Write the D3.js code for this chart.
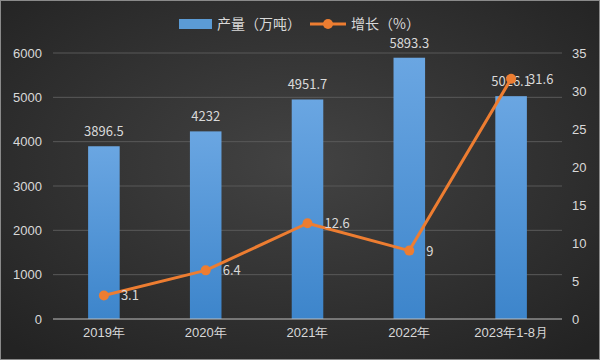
<!DOCTYPE html>
<html>
<head>
<meta charset="utf-8">
<script src="https://cdn.jsdelivr.net/npm/d3@7"></script>
<style>
  html, body { margin: 0; padding: 0; background: #2b2b2b; }
  svg { display: block; font-family: "Noto Sans CJK SC", "Noto Sans", sans-serif; }
</style>
</head>
<body>
<script>
// chart values
var categories = ["2019年", "2020年", "2021年", "2022年", "2023年1-8月"];
var output = [3896.5, 4232, 4951.7, 5893.3, 5026.1];
var growth = [3.1, 6.4, 12.6, 9, 31.6];
var leftTicks = [0, 1000, 2000, 3000, 4000, 5000, 6000];
var rightTicks = [0, 5, 10, 15, 20, 25, 30, 35];
var seriesNames = ["产量（万吨）", "增长（%）"];

var width = 600, height = 360;
var plotLeft = 53, plotRight = 562, plotTop = 53, plotBottom = 319;
var fs = "13px";

var svg = d3.select("body").append("svg")
    .attr("width", width)
    .attr("height", height);

var defs = svg.append("defs");
var bg = defs.append("radialGradient").attr("id", "bg")
    .attr("cx", "50%").attr("cy", "45%").attr("r", "70%");
bg.append("stop").attr("offset", "0%").attr("stop-color", "#434343");
bg.append("stop").attr("offset", "100%").attr("stop-color", "#232323");

var barGrad = defs.append("linearGradient").attr("id", "bar")
    .attr("x1", 0).attr("y1", 0).attr("x2", 0).attr("y2", 1);
barGrad.append("stop").attr("offset", "0%").attr("stop-color", "#6aa6e2");
barGrad.append("stop").attr("offset", "100%").attr("stop-color", "#3d85cb");

svg.append("rect")
    .attr("width", width).attr("height", height)
    .attr("fill", "url(#bg)");
svg.append("rect")
    .attr("x", 0.5).attr("y", 0.5)
    .attr("width", width - 1).attr("height", height - 1)
    .attr("fill", "none").attr("stroke", "#8a8a8a");

// scales
var x = d3.scaleBand().domain(categories).range([plotLeft, plotRight]).paddingInner(0.69).paddingOuter(0.345);
var xc = d3.scaleBand().domain(categories).range([plotLeft, plotRight]);
var yL = d3.scaleLinear().domain([0, 6000]).range([plotBottom, plotTop]);
var yR = d3.scaleLinear().domain([0, 35]).range([plotBottom, plotTop]);

// grid
svg.append("g").selectAll("line")
    .data(leftTicks.slice(1))
    .enter().append("line")
    .attr("x1", plotLeft).attr("x2", plotRight)
    .attr("y1", function (d) { return yL(d); })
    .attr("y2", function (d) { return yL(d); })
    .attr("stroke", "#595959").attr("stroke-width", 1);

// left axis
var axL = svg.append("g")
    .attr("transform", "translate(" + plotLeft + ",0)")
    .call(d3.axisLeft(yL).tickValues(leftTicks).tickFormat(d3.format("d")).tickSize(0).tickPadding(11));
axL.select(".domain").remove();
axL.selectAll("text").attr("fill", "#d9d9d9").style("font-size", fs);

// right axis
var axR = svg.append("g")
    .attr("transform", "translate(" + plotRight + ",0)")
    .call(d3.axisRight(yR).tickValues(rightTicks).tickSize(0).tickPadding(10));
axR.select(".domain").remove();
axR.selectAll("text").attr("fill", "#d9d9d9").style("font-size", fs);

// bars
svg.append("g").selectAll("rect")
    .data(output)
    .enter().append("rect")
    .attr("x", function (d, i) { return x(categories[i]); })
    .attr("y", function (d) { return yL(d); })
    .attr("width", x.bandwidth())
    .attr("height", function (d) { return plotBottom - yL(d); })
    .attr("fill", "url(#bar)");

svg.append("g").selectAll("text")
    .data(output)
    .enter().append("text")
    .attr("x", function (d, i) { return xc(categories[i]) + xc.bandwidth() / 2; })
    .attr("y", function (d) { return yL(d) - 10; })
    .attr("text-anchor", "middle")
    .attr("fill", "#d9d9d9")
    .style("font-size", fs)
    .text(function (d) { return d; });

// x axis
svg.append("line")
    .attr("x1", plotLeft).attr("x2", plotRight)
    .attr("y1", plotBottom).attr("y2", plotBottom)
    .attr("stroke", "#bfbfbf").attr("stroke-width", 1);
var axX = svg.append("g")
    .attr("transform", "translate(0," + plotBottom + ")")
    .call(d3.axisBottom(xc).tickSize(0).tickPadding(9));
axX.select(".domain").remove();
axX.selectAll("text").attr("fill", "#d9d9d9").style("font-size", fs);

// growth line
var cx = function (i) { return xc(categories[i]) + xc.bandwidth() / 2; };
var line = d3.line()
    .x(function (d, i) { return cx(i); })
    .y(function (d) { return yR(d); });
svg.append("path")
    .datum(growth)
    .attr("d", line)
    .attr("fill", "none")
    .attr("stroke", "#ed7d31")
    .attr("stroke-width", 3)
    .attr("stroke-linejoin", "round");
svg.append("g").selectAll("circle")
    .data(growth)
    .enter().append("circle")
    .attr("cx", function (d, i) { return cx(i); })
    .attr("cy", function (d) { return yR(d); })
    .attr("r", 5)
    .attr("fill", "#ed7d31");
svg.append("g").selectAll("text")
    .data(growth)
    .enter().append("text")
    .attr("x", function (d, i) { return cx(i) + 17; })
    .attr("y", function (d) { return yR(d) + 5; })
    .attr("fill", "#d9d9d9")
    .style("font-size", fs)
    .text(function (d) { return d; });

// legend
var lg = svg.append("g").attr("transform", "translate(179,24)");
lg.append("rect").attr("x", 0).attr("y", -5).attr("width", 33).attr("height", 10).attr("fill", "#5b9bd5");
lg.append("text").attr("x", 38).attr("y", 5).attr("fill", "#d9d9d9").style("font-size", "14px").text(seriesNames[0]);
lg.append("line").attr("x1", 131).attr("x2", 167).attr("y1", 0).attr("y2", 0)
    .attr("stroke", "#ed7d31").attr("stroke-width", 3);
lg.append("circle").attr("cx", 149).attr("cy", 0).attr("r", 5).attr("fill", "#ed7d31");
lg.append("text").attr("x", 172).attr("y", 5).attr("fill", "#d9d9d9").style("font-size", "14px").text(seriesNames[1]);
</script>
</body>
</html>
